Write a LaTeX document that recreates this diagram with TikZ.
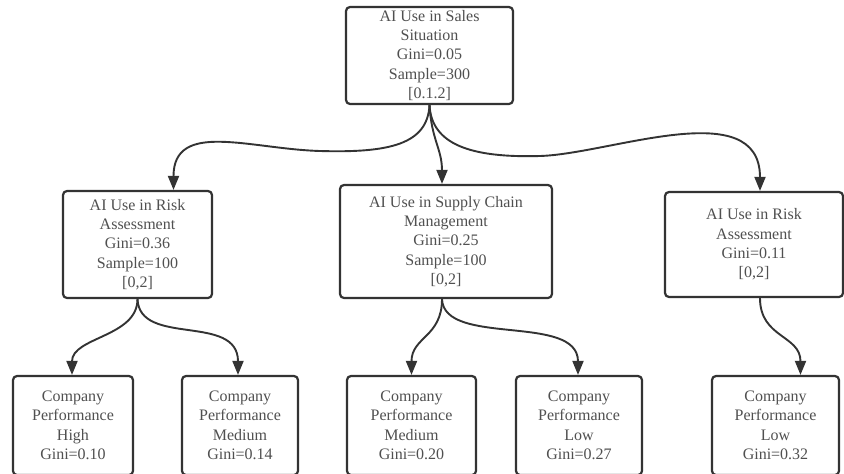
\documentclass[tikz,border=0pt]{standalone}
\usepackage{fontspec}
\setmainfont{Liberation Serif}
\usetikzlibrary{arrows.meta}
\definecolor{edgecol}{HTML}{333333}
\definecolor{txtcol}{HTML}{505050}
\tikzset{
  treebox/.style={draw=edgecol, line width=2.2pt, rounded corners=4pt, fill=white,
    text=txtcol, align=center, inner sep=0pt,
    font=\fontsize{16}{19.4}\selectfont},
  link/.style={draw=edgecol, line width=1.9pt,
    -{Triangle[length=14pt,width=11pt]}},
}
\begin{document}
\begin{tikzpicture}[x=1pt,y=-1pt]
\useasboundingbox (0,0) rectangle (844,474);
% root
\node[treebox, minimum width=167pt, minimum height=97pt] (root) at (429.5,55.5)
  {AI Use in Sales\\Situation\\Gini=0.05\\Sample=300\\{[0.1.2]}};
% middle level
\node[treebox, minimum width=149pt, minimum height=107pt] (m1) at (137.5,244.5)
  {AI Use in Risk\\Assessment\\Gini=0.36\\Sample=100\\{[0,2]}};
\node[treebox, minimum width=212pt, minimum height=113pt] (m2) at (446,241.5)
  {AI Use in Supply Chain\\Management\\Gini=0.25\\Sample=100\\{[0,2]}};
\node[treebox, minimum width=178pt, minimum height=105pt] (m3) at (754,244.5)
  {AI Use in Risk\\Assessment\\Gini=0.11\\{[0,2]}};
% bottom level
\node[treebox, minimum width=120pt, minimum height=99pt] (b1) at (73,425.5)
  {Company\\Performance\\High\\Gini=0.10};
\node[treebox, minimum width=116pt, minimum height=99pt] (b2) at (240,425.5)
  {Company\\Performance\\Medium\\Gini=0.14};
\node[treebox, minimum width=129pt, minimum height=99pt] (b3) at (411.5,425.5)
  {Company\\Performance\\Medium\\Gini=0.20};
\node[treebox, minimum width=126pt, minimum height=99pt] (b4) at (579,425.5)
  {Company\\Performance\\Low\\Gini=0.27};
\node[treebox, minimum width=127pt, minimum height=99pt] (b5) at (775.5,425.5)
  {Company\\Performance\\Low\\Gini=0.32};
% bend points of the long connectors
\coordinate (lbend) at (320,151);
\coordinate (rbend) at (540,156);
% connectors
\draw[link] (root.south) .. controls +(-2,39) and +(70,2) .. (lbend)
  .. controls +(-70,-2) and +(0,-70) .. ([xshift=36pt]m1.north);
\draw[link] (root.south) .. controls +(2,35) and +(0,-35) .. ([xshift=-4pt]m2.north);
\draw[link] (root.south) .. controls +(2,39) and +(-70,2) .. (rbend)
  .. controls +(70,-2) and +(0,-97) .. ([xshift=6pt]m3.north);
\draw[link] (m1.south) .. controls +(0,38) and +(0,-38) .. ([xshift=-1pt]b1.north);
\draw[link] (m1.south) .. controls +(2,48) and +(0,-62) .. ([xshift=-2pt]b2.north);
\draw[link] ([xshift=-4pt]m2.south) .. controls +(0,38) and +(0,-38) .. (b3.north);
\draw[link] ([xshift=-4pt]m2.south) .. controls +(2,48) and +(0,-62) .. ([xshift=-1pt]b4.north);
\draw[link] ([xshift=6pt]m3.south) .. controls +(0,40) and +(0,-40) .. ([xshift=25pt]b5.north);
\end{tikzpicture}
\end{document}
